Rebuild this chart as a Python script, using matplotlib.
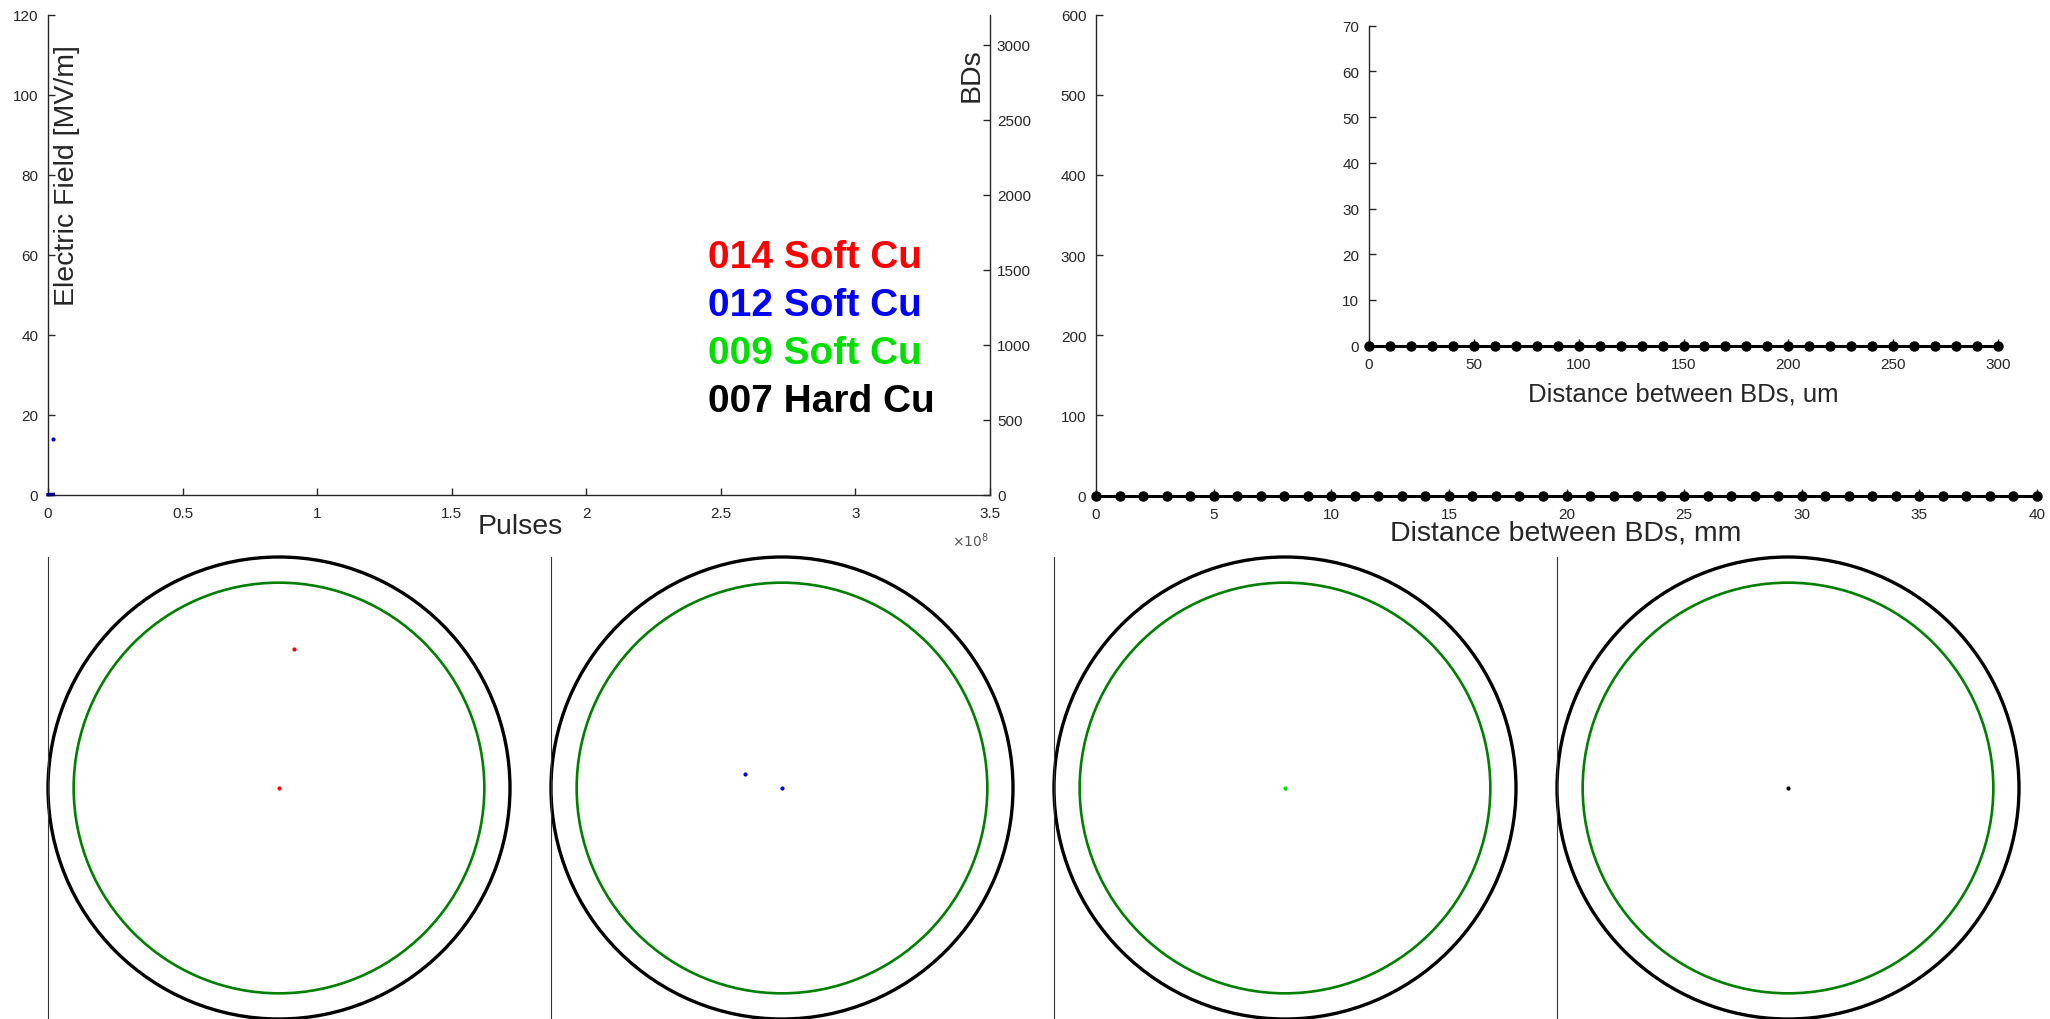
import matplotlib.pyplot as plt
from matplotlib.patches import Circle
from matplotlib.ticker import FuncFormatter

W, H = 2050, 1020
plt.rcParams["font.family"] = ["Liberation Sans", "DejaVu Sans"]
INK = "#262626"

# conditioning history, top left
field_pulses = [1.97e6]
field_values = [14.0]
bd_pulses = [0.0, 1.97e6]
bd_totals = [0, 2]
pulse_ticks = [0, 0.5e8, 1.0e8, 1.5e8, 2.0e8, 2.5e8, 3.0e8, 3.5e8]
field_ticks = [0, 20, 40, 60, 80, 100, 120]
bd_ticks = [0, 500, 1000, 1500, 2000, 2500, 3000]

sample_names = ["014 Soft Cu", "012 Soft Cu", "009 Soft Cu", "007 Hard Cu"]
sample_colors = ["#ff0000", "#0000ff", "#00e000", "#000000"]

# distance histograms, top right (all bins empty)
mm_bins = [0, 1, 2, 3, 4, 5, 6, 7, 8, 9, 10, 11, 12, 13, 14, 15, 16, 17, 18,
           19, 20, 21, 22, 23, 24, 25, 26, 27, 28, 29, 30, 31, 32, 33, 34, 35,
           36, 37, 38, 39, 40]
mm_counts = [0, 0, 0, 0, 0, 0, 0, 0, 0, 0, 0, 0, 0, 0, 0, 0, 0, 0, 0, 0, 0,
             0, 0, 0, 0, 0, 0, 0, 0, 0, 0, 0, 0, 0, 0, 0, 0, 0, 0, 0, 0]
um_bins = [0, 10, 20, 30, 40, 50, 60, 70, 80, 90, 100, 110, 120, 130, 140,
           150, 160, 170, 180, 190, 200, 210, 220, 230, 240, 250, 260, 270,
           280, 290, 300]
um_counts = [0, 0, 0, 0, 0, 0, 0, 0, 0, 0, 0, 0, 0, 0, 0, 0, 0, 0, 0, 0, 0,
             0, 0, 0, 0, 0, 0, 0, 0, 0, 0]

# BD positions on the iris, mm
outer_radius = 4.5
inner_radius = 4.0
bd_x = [[0.0, 0.29], [-0.72, 0.0], [0.0], [0.0]]
bd_y = [[0.0, 2.70], [0.28, 0.0], [0.0], [0.0]]


fig = plt.figure(figsize=(W / 100, H / 100), dpi=100)


def place(x0, y0, x1, y1):
    return fig.add_axes([x0 / W, 1 - y1 / H, (x1 - x0) / W, (y1 - y0) / H])


def style(ax, keep=("left", "bottom"), pad=7):
    for side, spine in ax.spines.items():
        spine.set_visible(side in keep)
        spine.set_color(INK)
        spine.set_linewidth(1.0)
    ax.tick_params(direction="in", length=5, width=1, colors=INK,
                   labelsize=11, pad=pad)
    ax.tick_params(axis="x", pad=8)


def label(x, y, text, size=20.5, rotation=0):
    fig.text(x / W, 1 - y / H, text, fontsize=size, color=INK,
             rotation=rotation, ha="center", va="center")


# --- top left -----------------------------------------------------------
ax = place(48, 15.7, 990, 495.7)
style(ax)
ax.set_xlim(0, 3.5e8)
ax.set_ylim(0, 120)
ax.set_xticks(pulse_ticks)
ax.xaxis.set_major_formatter(FuncFormatter(lambda v, _: f"{v / 1e8:g}"))
ax.set_yticks(field_ticks)
ax.plot(field_pulses, field_values, "o", color="#0000c8", ms=3, mew=0)

axr = ax.twinx()
style(axr, keep=("right",), pad=5)
axr.set_ylim(0, 3200)
axr.set_yticks(bd_ticks)
axr.plot(bd_pulses, bd_totals, color="#000080", lw=2.5, clip_on=False)

label(67, 176, "Electric Field [MV/m]", rotation=90)
label(972, 75, "BDs", rotation=90)
label(520, 527, "Pulses")
fig.text(970 / W, 1 - 541 / H, r"$\times10^{8}$", fontsize=10, color="#555555",
         ha="center", va="center")

for i, (name, color) in enumerate(zip(sample_names, sample_colors)):
    fig.text(708 / W, 1 - (258 + 48 * i) / H, name, fontsize=28,
             fontweight="bold", color=color, ha="left", va="center")

# --- top right ----------------------------------------------------------
ax = place(1096, 15.7, 2037, 496.5)
style(ax)
ax.set_xlim(0, 40)
ax.set_ylim(0, 600)
ax.set_xticks(range(0, 41, 5))
ax.set_yticks(range(0, 601, 100))
ax.plot(mm_bins, mm_counts, "-o", color="black", lw=2.2, ms=6.5,
        clip_on=False, zorder=5)
label(1566, 533, "Distance between BDs, mm")

ins = place(1369, 26.7, 1998, 346.7)
style(ins)
ins.set_facecolor("white")
ins.set_xlim(0, 300)
ins.set_ylim(0, 70)
ins.set_xticks(range(0, 301, 50))
ins.set_yticks(range(0, 71, 10))
ins.plot(um_bins, um_counts, "-o", color="black", lw=2.2, ms=6.5,
         clip_on=False, zorder=5)
label(1683, 395, "Distance between BDs, um", size=18.5)

# --- bottom: BD maps ----------------------------------------------------
for i in range(4):
    x0 = 48 + 503 * i
    ax = place(x0, 558, x0 + 462, 1020)
    for side, spine in ax.spines.items():
        spine.set_visible(side == "left")
        spine.set_color("#333333")
        spine.set_linewidth(0.8)
    ax.set_xticks([])
    ax.set_yticks([])
    ax.set_xlim(-outer_radius, outer_radius)
    ax.set_ylim(-outer_radius, outer_radius)
    ax.set_aspect("equal")
    ax.add_patch(Circle((0, 0), outer_radius, fill=False, ec="black",
                        lw=2.4, clip_on=False))
    ax.add_patch(Circle((0, 0), inner_radius, fill=False, ec="#007f00",
                        lw=1.9, clip_on=False))
    ax.plot(bd_x[i], bd_y[i], "o", color=sample_colors[i], ms=3, mew=0)

fig.savefig("out.png", dpi=100)
